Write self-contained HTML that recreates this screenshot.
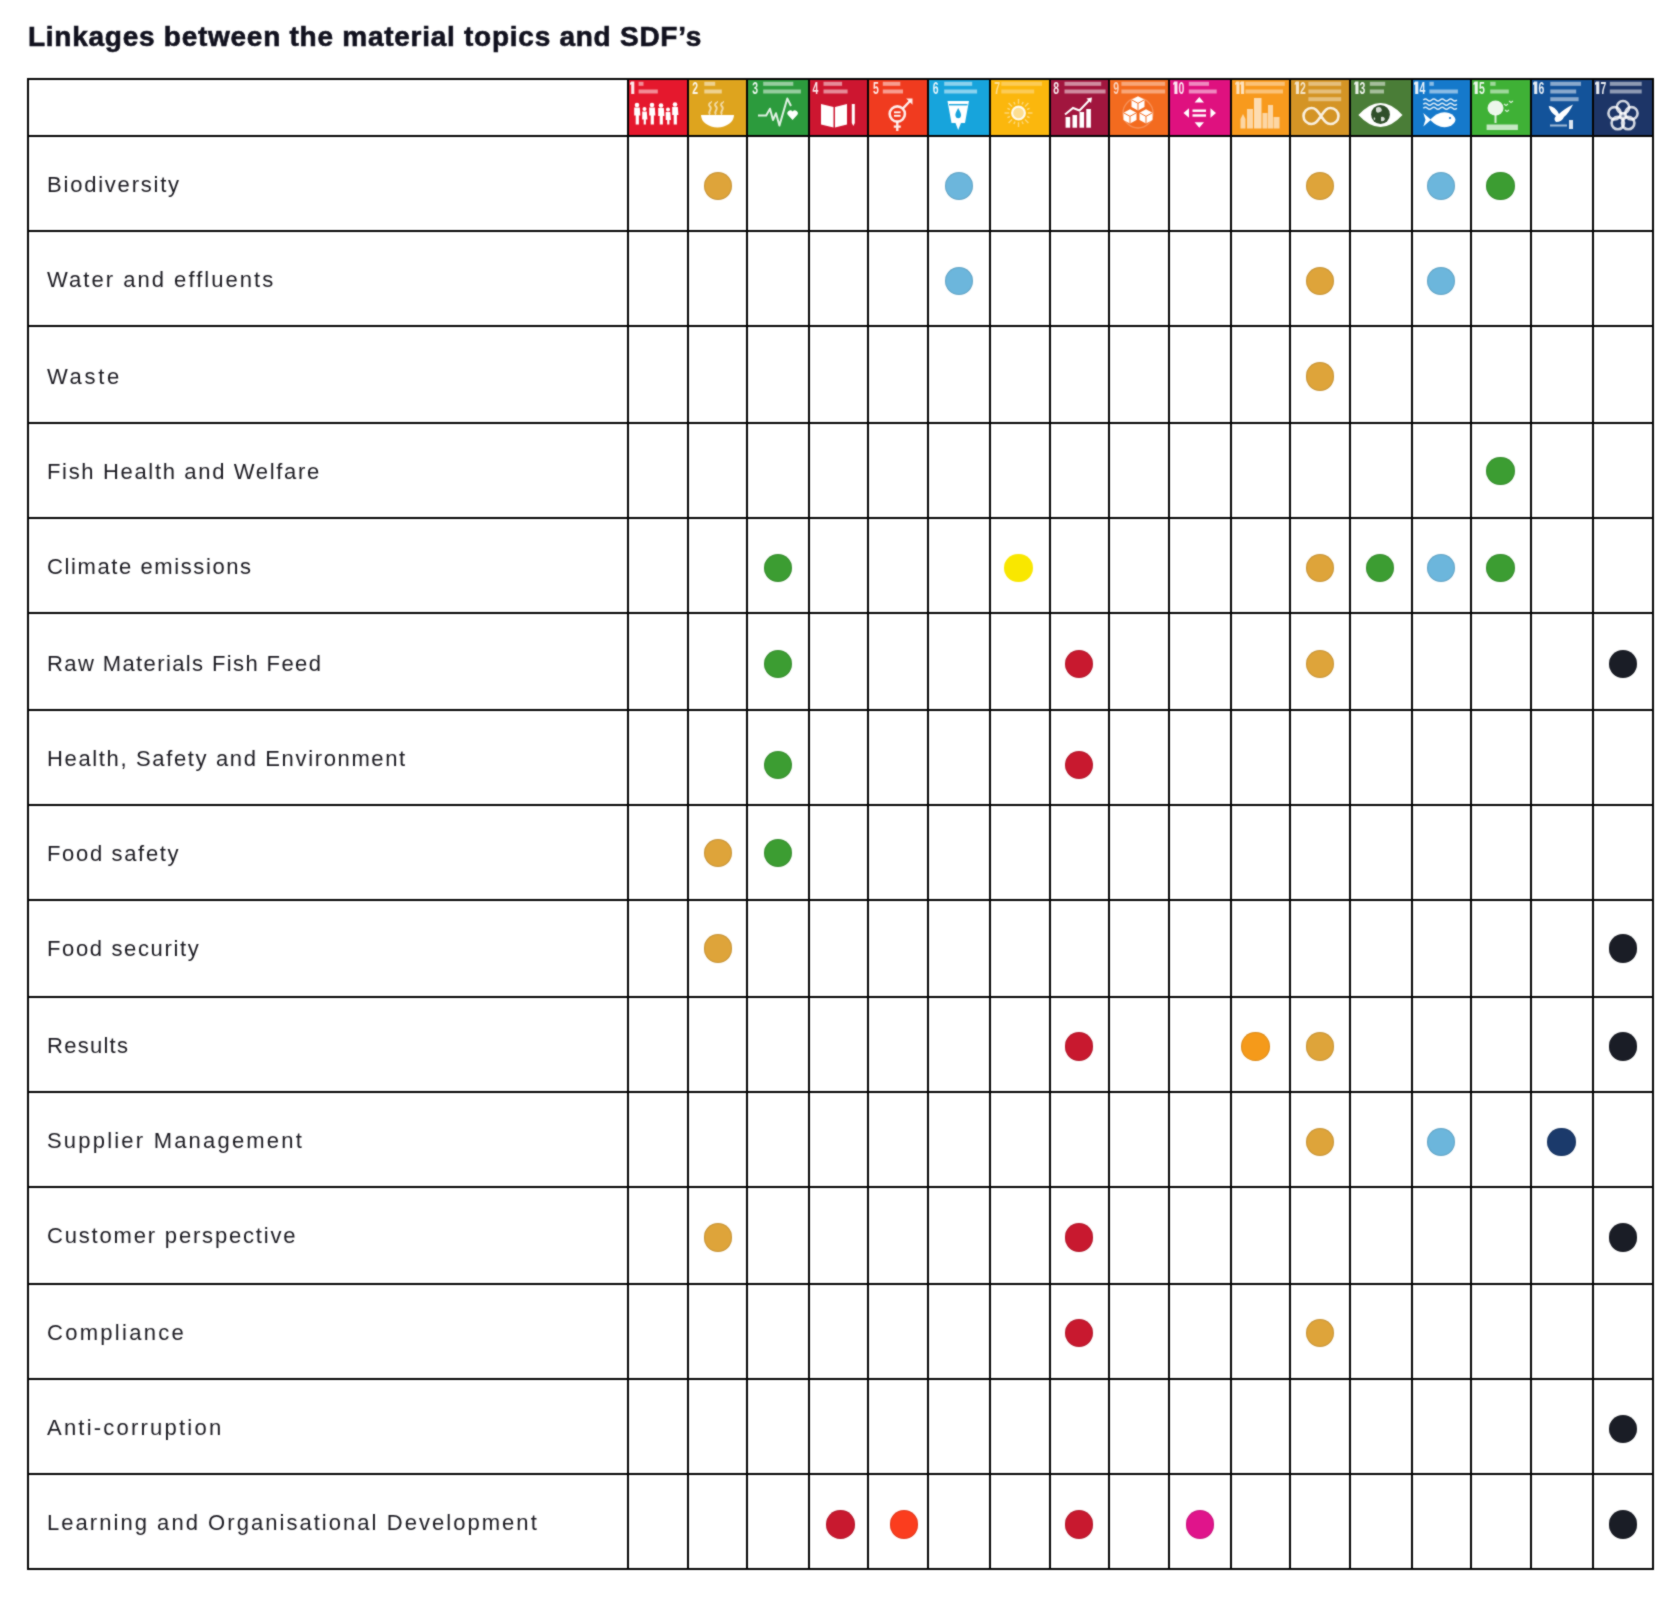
<!DOCTYPE html>
<html><head><meta charset="utf-8"><title>Linkages between the material topics and SDF's</title>
<style>
html,body{margin:0;padding:0;background:#fff;}
body{width:1680px;height:1598px;position:relative;overflow:hidden;font-family:"Liberation Sans",sans-serif;}
.t{will-change:transform;position:absolute;left:27.6px;top:0;font-weight:bold;font-size:28px;color:#12121f;-webkit-text-stroke:0.6px #12121f;white-space:nowrap;line-height:1;}
.l{position:absolute;background:#050505;}
.lab{will-change:transform;position:absolute;left:0;font-size:22px;color:#1c1b22;white-space:nowrap;line-height:1;}
.d{position:absolute;border-radius:50%;box-shadow:inset 0 0 0 1px rgba(0,0,0,0.10);width:28.4px;height:28.4px;}
.ic{position:absolute;display:block;}
#w{position:absolute;left:0;top:0;width:1680px;height:1598px;background:#fff;filter:url(#sb);}
</style></head><body><svg width="0" height="0" style="position:absolute"><filter id="sb" x="0" y="0" width="1680" height="1598" filterUnits="userSpaceOnUse" color-interpolation-filters="sRGB"><feConvolveMatrix order="3" kernelMatrix="1 2 1 2 12 2 1 2 1" edgeMode="duplicate"/></filter></svg><div id="w">
<div class="t" style="top:23.30px;letter-spacing:0.738px">Linkages between the material topics and SDF&#8217;s</div>
<svg class="ic" style="left:628.00px;top:78.50px;width:59.50px;height:57.00px" viewBox="0 0 59.50 57.00" preserveAspectRatio="none"><rect x="0" y="0" width="59.50" height="57.00" fill="#e5182d"/><path d="M3.2 2.6 h3.1 v12.3 h-3.1 v-9.6 l-1.2 0.8 v-2.2 z" fill="#fff" opacity="0.90"/><rect x="10.6" y="2.8" width="4.9" height="4" fill="#fff" opacity="0.50"/><rect x="10.6" y="10.5" width="19.2" height="4" fill="#fff" opacity="0.50"/><circle cx="9.0" cy="26.0" r="2.3" fill="#fff"/><path d="M6.2 28.6 h5.6 l0.6 8.0 h-1.5 v8.9 h-3.2 v-8.9 h-1.5 z" fill="#fff"/><circle cx="16.5" cy="30.0" r="2.0" fill="#fff"/><path d="M14.2 32.6 h4.6 l0.6 8.0 h-1.5 v4.9 h-2.2 v-4.9 h-1.5 z" fill="#fff"/><circle cx="24.0" cy="26.0" r="2.3" fill="#fff"/><path d="M21.2 28.6 h5.6 l0.6 8.0 h-1.5 v8.9 h-3.2 v-8.9 h-1.5 z" fill="#fff"/><circle cx="33.0" cy="26.5" r="2.3" fill="#fff"/><path d="M30.2 29.1 h5.6 l0.6 8.0 h-1.5 v8.4 h-3.2 v-8.4 h-1.5 z" fill="#fff"/><circle cx="40.0" cy="30.5" r="2.0" fill="#fff"/><path d="M37.7 33.1 h4.6 l0.6 8.0 h-1.5 v4.4 h-2.2 v-4.4 h-1.5 z" fill="#fff"/><circle cx="47.0" cy="25.5" r="2.3" fill="#fff"/><path d="M44.2 28.1 h5.6 l0.6 8.0 h-1.5 v9.4 h-3.2 v-9.4 h-1.5 z" fill="#fff"/></svg>
<svg class="ic" style="left:687.50px;top:78.50px;width:59.80px;height:57.00px" viewBox="0 0 59.80 57.00" preserveAspectRatio="none"><rect x="0" y="0" width="59.80" height="57.00" fill="#dea41e"/><text x="0" y="0" font-family="Liberation Sans" font-weight="bold" font-size="17.4" fill="#fff" opacity="0.90" transform="translate(4.2,14.9) scale(0.6,1)">2</text><rect x="16.3" y="2.8" width="10.9" height="4" fill="#fff" opacity="0.50"/><rect x="16.3" y="10.5" width="17.5" height="4" fill="#fff" opacity="0.50"/><path d="M13 36 H46 A16.5 12.5 0 0 1 13 36 Z" fill="#fff"/><path d="M22 35.5 c-3 -3 3 -5 0 -8 c-3 -3 2 -4 1 -5" fill="none" stroke="#fff" stroke-width="1.9" opacity="0.6"/><path d="M28 35.5 c-3 -3 3 -5 0 -8 c-3 -3 2 -4 1 -5" fill="none" stroke="#fff" stroke-width="1.9" opacity="0.6"/><path d="M34 35.5 c-3 -3 3 -5 0 -8 c-3 -3 2 -4 1 -5" fill="none" stroke="#fff" stroke-width="1.9" opacity="0.6"/></svg>
<svg class="ic" style="left:747.30px;top:78.50px;width:61.70px;height:57.00px" viewBox="0 0 61.70 57.00" preserveAspectRatio="none"><rect x="0" y="0" width="61.70" height="57.00" fill="#2c9b3d"/><text x="0" y="0" font-family="Liberation Sans" font-weight="bold" font-size="17.4" fill="#fff" opacity="0.90" transform="translate(5.2,14.9) scale(0.6,1)">3</text><rect x="16.2" y="2.8" width="30.1" height="4" fill="#fff" opacity="0.50"/><rect x="16.2" y="10.5" width="37.7" height="4" fill="#fff" opacity="0.50"/><polyline points="11,36.5 19.2,36.5 23,29.7 26,41 29,34.2 32.4,46.6 40.3,19.5 44,27" fill="none" stroke="#fff" stroke-width="2" stroke-linejoin="round" opacity="0.85"/><path d="M45.6 41 L41 36 A2.6 2.6 0 0 1 45.6 32.5 A2.6 2.6 0 0 1 50.2 36 Z" fill="#fff"/></svg>
<svg class="ic" style="left:809.00px;top:78.50px;width:59.40px;height:57.00px" viewBox="0 0 59.40 57.00" preserveAspectRatio="none"><rect x="0" y="0" width="59.40" height="57.00" fill="#cd1630"/><text x="0" y="0" font-family="Liberation Sans" font-weight="bold" font-size="17.4" fill="#fff" opacity="0.90" transform="translate(3.6,14.9) scale(0.6,1)">4</text><rect x="14.5" y="2.8" width="18.6" height="4" fill="#fff" opacity="0.50"/><rect x="14.5" y="10.5" width="24.1" height="4" fill="#fff" opacity="0.50"/><path d="M12 25 L24.5 28 L24.5 48.5 L12 45.5 Z" fill="#fff"/><path d="M38 25 L26 28 L26 48.5 L38 45.5 Z" fill="#fff"/><rect x="42.8" y="25" width="3" height="19" fill="#fff"/><path d="M42.8 44 L44.3 47 L45.8 44 Z" fill="#fff"/></svg>
<svg class="ic" style="left:868.40px;top:78.50px;width:59.90px;height:57.00px" viewBox="0 0 59.90 57.00" preserveAspectRatio="none"><rect x="0" y="0" width="59.90" height="57.00" fill="#f03b1f"/><text x="0" y="0" font-family="Liberation Sans" font-weight="bold" font-size="17.4" fill="#fff" opacity="0.90" transform="translate(5.0,14.9) scale(0.6,1)">5</text><rect x="14.8" y="2.8" width="17.5" height="4" fill="#fff" opacity="0.50"/><rect x="14.8" y="10.5" width="20.2" height="4" fill="#fff" opacity="0.50"/><circle cx="29.3" cy="35" r="7.6" fill="none" stroke="#fff" stroke-width="2.6" opacity="0.9"/><rect x="26" y="32.4" width="6.6" height="1.8" fill="#fff"/><rect x="26" y="35.9" width="6.6" height="1.8" fill="#fff"/><path d="M35 29.3 L42 22" stroke="#fff" stroke-width="2.4" opacity="0.9"/><path d="M38.2 19.5 H44.5 V25.8 Z" fill="#fff" opacity="0.9"/><path d="M29.3 42.6 V52 M25.8 47.6 H32.8" stroke="#fff" stroke-width="2.4" opacity="0.9"/></svg>
<svg class="ic" style="left:928.30px;top:78.50px;width:61.70px;height:57.00px" viewBox="0 0 61.70 57.00" preserveAspectRatio="none"><rect x="0" y="0" width="61.70" height="57.00" fill="#17a4dc"/><text x="0" y="0" font-family="Liberation Sans" font-weight="bold" font-size="17.4" fill="#fff" opacity="0.90" transform="translate(4.7,14.9) scale(0.6,1)">6</text><rect x="16.2" y="2.8" width="28.0" height="4" fill="#fff" opacity="0.50"/><rect x="16.2" y="10.5" width="32.9" height="4" fill="#fff" opacity="0.50"/><path d="M19.5 22 H41 L37 44 L33 44 L30.2 51 L27.5 44 L23.5 44 Z" fill="#fff"/><path d="M30.2 29 C28 33 27 35 27.5 37 A2.8 2.8 0 0 0 33 37 C33.4 35 32.4 33 30.2 29 Z" fill="#17a4dc"/><rect x="21" y="25" width="18.5" height="1.4" fill="#17a4dc"/></svg>
<svg class="ic" style="left:990.00px;top:78.50px;width:59.80px;height:57.00px" viewBox="0 0 59.80 57.00" preserveAspectRatio="none"><rect x="0" y="0" width="59.80" height="57.00" fill="#fbb70d"/><text x="0" y="0" font-family="Liberation Sans" font-weight="bold" font-size="17.4" fill="#fff" opacity="0.55" transform="translate(4.2,14.9) scale(0.6,1)">7</text><rect x="11.3" y="2.8" width="40.6" height="4" fill="#fff" opacity="0.30"/><rect x="11.3" y="10.5" width="32.9" height="4" fill="#fff" opacity="0.30"/><circle cx="28.5" cy="34" r="6.8" fill="#fff" opacity="0.55"/><circle cx="28.5" cy="34" r="6.4" fill="none" stroke="#fff" stroke-width="2.2" opacity="0.85"/><line x1="37.7" y1="34.0" x2="42.5" y2="34.0" stroke="#fff" stroke-width="1.4" opacity="0.45"/><line x1="37.0" y1="37.5" x2="39.6" y2="38.6" stroke="#fff" stroke-width="1.4" opacity="0.45"/><line x1="35.0" y1="40.5" x2="38.4" y2="43.9" stroke="#fff" stroke-width="1.4" opacity="0.45"/><line x1="32.0" y1="42.5" x2="33.1" y2="45.1" stroke="#fff" stroke-width="1.4" opacity="0.45"/><line x1="28.5" y1="43.2" x2="28.5" y2="48.0" stroke="#fff" stroke-width="1.4" opacity="0.45"/><line x1="25.0" y1="42.5" x2="23.9" y2="45.1" stroke="#fff" stroke-width="1.4" opacity="0.45"/><line x1="22.0" y1="40.5" x2="18.6" y2="43.9" stroke="#fff" stroke-width="1.4" opacity="0.45"/><line x1="20.0" y1="37.5" x2="17.4" y2="38.6" stroke="#fff" stroke-width="1.4" opacity="0.45"/><line x1="19.3" y1="34.0" x2="14.5" y2="34.0" stroke="#fff" stroke-width="1.4" opacity="0.45"/><line x1="20.0" y1="30.5" x2="17.4" y2="29.4" stroke="#fff" stroke-width="1.4" opacity="0.45"/><line x1="22.0" y1="27.5" x2="18.6" y2="24.1" stroke="#fff" stroke-width="1.4" opacity="0.45"/><line x1="25.0" y1="25.5" x2="23.9" y2="22.9" stroke="#fff" stroke-width="1.4" opacity="0.45"/><line x1="28.5" y1="24.8" x2="28.5" y2="20.0" stroke="#fff" stroke-width="1.4" opacity="0.45"/><line x1="32.0" y1="25.5" x2="33.1" y2="22.9" stroke="#fff" stroke-width="1.4" opacity="0.45"/><line x1="35.0" y1="27.5" x2="38.4" y2="24.1" stroke="#fff" stroke-width="1.4" opacity="0.45"/><line x1="37.0" y1="30.5" x2="39.6" y2="29.4" stroke="#fff" stroke-width="1.4" opacity="0.45"/></svg>
<svg class="ic" style="left:1049.80px;top:78.50px;width:59.60px;height:57.00px" viewBox="0 0 59.60 57.00" preserveAspectRatio="none"><rect x="0" y="0" width="59.60" height="57.00" fill="#a1163e"/><text x="0" y="0" font-family="Liberation Sans" font-weight="bold" font-size="17.4" fill="#fff" opacity="0.90" transform="translate(3.2,14.9) scale(0.6,1)">8</text><rect x="14.5" y="2.8" width="36.7" height="4" fill="#fff" opacity="0.50"/><rect x="14.5" y="10.5" width="41.1" height="4" fill="#fff" opacity="0.50"/><rect x="15.6" y="38.0" width="4.6" height="10.7" fill="#fff"/><rect x="22.5" y="36.0" width="4.6" height="12.7" fill="#fff"/><rect x="29.5" y="33.0" width="4.6" height="15.7" fill="#fff"/><rect x="36.3" y="30.0" width="4.6" height="18.7" fill="#fff"/><polyline points="15,35.5 23,29 29.5,31.5 40,20.5" fill="none" stroke="#fff" stroke-width="2"/><path d="M36.5 19.5 L42 18.5 L41 24 Z" fill="#fff"/></svg>
<svg class="ic" style="left:1109.40px;top:78.50px;width:59.30px;height:57.00px" viewBox="0 0 59.30 57.00" preserveAspectRatio="none"><rect x="0" y="0" width="59.30" height="57.00" fill="#f36b1f"/><text x="0" y="0" font-family="Liberation Sans" font-weight="bold" font-size="17.4" fill="#fff" opacity="0.70" transform="translate(4.2,14.9) scale(0.6,1)">9</text><rect x="12.4" y="2.8" width="43.8" height="4" fill="#fff" opacity="0.40"/><rect x="12.4" y="10.5" width="43.8" height="4" fill="#fff" opacity="0.40"/><path d="M22.5 20.75 l6.5 -3.575 l6.5 3.575 v7.15 l-6.5 3.575 l-6.5 -3.575 Z" fill="#fff"/><path d="M22.5 20.75 l6.5 3.575 l6.5 -3.575 M29 24.325 v7.15" fill="none" stroke="#f36b1f" stroke-width="1"/><path d="M14.5 33.75 l6.5 -3.575 l6.5 3.575 v7.15 l-6.5 3.575 l-6.5 -3.575 Z" fill="#fff"/><path d="M14.5 33.75 l6.5 3.575 l6.5 -3.575 M21 37.325 v7.15" fill="none" stroke="#f36b1f" stroke-width="1"/><path d="M30.5 33.75 l6.5 -3.575 l6.5 3.575 v7.15 l-6.5 3.575 l-6.5 -3.575 Z" fill="#fff"/><path d="M30.5 33.75 l6.5 3.575 l6.5 -3.575 M37 37.325 v7.15" fill="none" stroke="#f36b1f" stroke-width="1"/><circle cx="29" cy="34" r="15" fill="none" stroke="#fff" stroke-width="1.4" opacity="0.25"/></svg>
<svg class="ic" style="left:1168.70px;top:78.50px;width:61.80px;height:57.00px" viewBox="0 0 61.80 57.00" preserveAspectRatio="none"><rect x="0" y="0" width="61.80" height="57.00" fill="#df117f"/><path d="M5.4 2.6 h3.1 v12.3 h-3.1 v-9.6 l-1.2 0.8 v-2.2 z" fill="#fff" opacity="0.90"/><text x="0" y="0" font-family="Liberation Sans" font-weight="bold" font-size="17.4" fill="#fff" opacity="0.90" transform="translate(9.6,14.9) scale(0.6,1)">0</text><rect x="19.8" y="2.8" width="20.2" height="4" fill="#fff" opacity="0.50"/><rect x="19.8" y="10.5" width="27.9" height="4" fill="#fff" opacity="0.50"/><path d="M30.3 18 L35 23.5 H25.6 Z M30.3 48.7 L35 43.2 H25.6 Z M14.5 34 L20 29.3 V38.7 Z M47 34 L41.5 29.3 V38.7 Z" fill="#fff"/><rect x="23.5" y="30.5" width="13.5" height="2.4" fill="#fff"/><rect x="23.5" y="35.3" width="13.5" height="2.4" fill="#fff"/></svg>
<svg class="ic" style="left:1230.50px;top:78.50px;width:59.50px;height:57.00px" viewBox="0 0 59.50 57.00" preserveAspectRatio="none"><rect x="0" y="0" width="59.50" height="57.00" fill="#f89a1d"/><path d="M5.4 2.6 h3.1 v12.3 h-3.1 v-9.6 l-1.2 0.8 v-2.2 z" fill="#fff" opacity="0.70"/><path d="M10.0 2.6 h3.1 v12.3 h-3.1 v-9.6 l-1.2 0.8 v-2.2 z" fill="#fff" opacity="0.70"/><rect x="14.4" y="2.8" width="39.4" height="4" fill="#fff" opacity="0.40"/><rect x="14.4" y="10.5" width="37.6" height="4" fill="#fff" opacity="0.40"/><path d="M9.5 49.5 V40 L12 35 L14.5 40 V49.5 Z" fill="#fff" opacity="0.6"/><rect x="16" y="30" width="6" height="19.5" fill="#fff" opacity="0.6"/><rect x="23" y="19" width="7.5" height="30.5" fill="#fff" opacity="0.65"/><rect x="31.5" y="34" width="5" height="15.5" fill="#fff" opacity="0.6"/><rect x="37" y="26" width="5" height="23.5" fill="#fff" opacity="0.6"/><rect x="42.5" y="38" width="6" height="11.5" fill="#fff" opacity="0.6"/></svg>
<svg class="ic" style="left:1290.00px;top:78.50px;width:59.70px;height:57.00px" viewBox="0 0 59.70 57.00" preserveAspectRatio="none"><rect x="0" y="0" width="59.70" height="57.00" fill="#d49425"/><path d="M5.9 2.6 h3.1 v12.3 h-3.1 v-9.6 l-1.2 0.8 v-2.2 z" fill="#fff" opacity="0.75"/><text x="0" y="0" font-family="Liberation Sans" font-weight="bold" font-size="17.4" fill="#fff" opacity="0.75" transform="translate(10.1,14.9) scale(0.6,1)">2</text><rect x="18.4" y="2.8" width="32.8" height="4" fill="#fff" opacity="0.40"/><rect x="18.4" y="10.5" width="32.8" height="4" fill="#fff" opacity="0.40"/><rect x="18.4" y="18.2" width="32.8" height="4" fill="#fff" opacity="0.40"/><path d="M31 37 C27 31 25 29 21.5 29 A8 8 0 0 0 21.5 45 C25 45 27 43 31 37 C35 31 37 29 40.5 29 A8 8 0 0 1 40.5 45 C37 45 35 43 31 37 Z" fill="none" stroke="#fff" stroke-width="2.6" opacity="0.85"/></svg>
<svg class="ic" style="left:1349.70px;top:78.50px;width:62.10px;height:57.00px" viewBox="0 0 62.10 57.00" preserveAspectRatio="none"><rect x="0" y="0" width="62.10" height="57.00" fill="#4a7d37"/><path d="M5.4 2.6 h3.1 v12.3 h-3.1 v-9.6 l-1.2 0.8 v-2.2 z" fill="#fff" opacity="0.90"/><text x="0" y="0" font-family="Liberation Sans" font-weight="bold" font-size="17.4" fill="#fff" opacity="0.90" transform="translate(9.6,14.9) scale(0.6,1)">3</text><rect x="19.8" y="2.8" width="15.4" height="4" fill="#fff" opacity="0.50"/><rect x="19.8" y="10.5" width="14.2" height="4" fill="#fff" opacity="0.50"/><path d="M8.4 36 Q30.5 12 52.5 36 Q30.5 60 8.4 36 Z" fill="#fff"/><circle cx="30.5" cy="35.5" r="9.4" fill="#2f4f2a"/><path d="M26 29 q3 -2 5 0 q2 3 -1 4 q-3 2 -4 -1 Z M31 38 q3 -1 4 2 q-1 3 -4 2 Z M24 38 q2 1 1 3 q-2 0 -1 -3 Z" fill="#fff" opacity="0.8"/></svg>
<svg class="ic" style="left:1411.80px;top:78.50px;width:59.60px;height:57.00px" viewBox="0 0 59.60 57.00" preserveAspectRatio="none"><rect x="0" y="0" width="59.60" height="57.00" fill="#1579cb"/><path d="M3.2 2.6 h3.1 v12.3 h-3.1 v-9.6 l-1.2 0.8 v-2.2 z" fill="#fff" opacity="0.90"/><text x="0" y="0" font-family="Liberation Sans" font-weight="bold" font-size="17.4" fill="#fff" opacity="0.90" transform="translate(7.4,14.9) scale(0.6,1)">4</text><rect x="17.4" y="2.8" width="4.4" height="4" fill="#fff" opacity="0.50"/><rect x="17.4" y="10.5" width="28.5" height="4" fill="#fff" opacity="0.50"/><path d="M11.3 21.0 q2.1 -2 4.2 0 t4.2 0 t4.2 0 t4.2 0 t4.2 0 t4.2 0 t4.2 0 t4.2 0" fill="none" stroke="#fff" stroke-width="1.5" opacity="0.85"/><path d="M11.3 25.3 q2.1 -2 4.2 0 t4.2 0 t4.2 0 t4.2 0 t4.2 0 t4.2 0 t4.2 0 t4.2 0" fill="none" stroke="#fff" stroke-width="1.5" opacity="0.85"/><path d="M11.3 29.2 q2.1 -2 4.2 0 t4.2 0 t4.2 0 t4.2 0 t4.2 0 t4.2 0 t4.2 0 t4.2 0" fill="none" stroke="#fff" stroke-width="1.5" opacity="0.85"/><path d="M18 40.8 Q27 31 37 34 Q43 36.5 43.5 40.8 Q43 45 37 47.6 Q27 50.5 18 40.8 Z" fill="#fff"/><path d="M19 40.8 L11.3 34 L13.5 40.8 L11.3 47.6 Z" fill="#fff"/><circle cx="38" cy="39" r="1.1" fill="#1579cb"/></svg>
<svg class="ic" style="left:1471.40px;top:78.50px;width:59.60px;height:57.00px" viewBox="0 0 59.60 57.00" preserveAspectRatio="none"><rect x="0" y="0" width="59.60" height="57.00" fill="#3fb136"/><path d="M3.7 2.6 h3.1 v12.3 h-3.1 v-9.6 l-1.2 0.8 v-2.2 z" fill="#fff" opacity="0.90"/><text x="0" y="0" font-family="Liberation Sans" font-weight="bold" font-size="17.4" fill="#fff" opacity="0.90" transform="translate(7.9,14.9) scale(0.6,1)">5</text><rect x="19.2" y="2.8" width="5.4" height="4" fill="#fff" opacity="0.50"/><rect x="19.2" y="10.5" width="18.6" height="4" fill="#fff" opacity="0.50"/><ellipse cx="24.5" cy="29" rx="8" ry="7.5" fill="#fff" opacity="0.9"/><rect x="23.5" y="35" width="2" height="9" fill="#fff" opacity="0.8"/><rect x="15.6" y="45.5" width="31.3" height="5.5" fill="#fff" opacity="0.7"/><path d="M33 25 l2 1.5 l2 -1.5 M38 22 l2 1.5 l2 -1.5 M34 31 l2 1.5 l2 -1.5" fill="none" stroke="#fff" stroke-width="1.2" opacity="0.8"/></svg>
<svg class="ic" style="left:1531.00px;top:78.50px;width:61.90px;height:57.00px" viewBox="0 0 61.90 57.00" preserveAspectRatio="none"><rect x="0" y="0" width="61.90" height="57.00" fill="#13539a"/><path d="M3.2 2.6 h3.1 v12.3 h-3.1 v-9.6 l-1.2 0.8 v-2.2 z" fill="#fff" opacity="0.90"/><text x="0" y="0" font-family="Liberation Sans" font-weight="bold" font-size="17.4" fill="#fff" opacity="0.90" transform="translate(7.4,14.9) scale(0.6,1)">6</text><rect x="19.3" y="2.8" width="30.7" height="4" fill="#fff" opacity="0.50"/><rect x="19.3" y="10.5" width="25.9" height="4" fill="#fff" opacity="0.50"/><rect x="19.3" y="18.2" width="28.3" height="4" fill="#fff" opacity="0.50"/><path d="M17.7 27 Q24 27 28 35 Q33 30 42 25.5 Q38 34 33 38 Q31 43 25 43 Q22 40 25 37 Q19 33 17.7 27 Z" fill="#fff"/><rect x="19" y="45.5" width="17" height="2" fill="#fff" opacity="0.6"/><path d="M38 41 L42 41 L42 50 L38 50 Z" fill="#fff" opacity="0.85"/></svg>
<svg class="ic" style="left:1592.90px;top:78.50px;width:59.60px;height:57.00px" viewBox="0 0 59.60 57.00" preserveAspectRatio="none"><rect x="0" y="0" width="59.60" height="57.00" fill="#1d3567"/><path d="M3.2 2.6 h3.1 v12.3 h-3.1 v-9.6 l-1.2 0.8 v-2.2 z" fill="#fff" opacity="0.90"/><text x="0" y="0" font-family="Liberation Sans" font-weight="bold" font-size="17.4" fill="#fff" opacity="0.90" transform="translate(7.4,14.9) scale(0.6,1)">7</text><rect x="16.8" y="2.8" width="31.9" height="4" fill="#fff" opacity="0.50"/><rect x="16.8" y="10.5" width="31.9" height="4" fill="#fff" opacity="0.50"/><circle cx="30.0" cy="28.2" r="6.2" fill="none" stroke="#fff" stroke-width="2.6" opacity="0.8"/><circle cx="38.4" cy="34.3" r="6.2" fill="none" stroke="#fff" stroke-width="2.6" opacity="0.8"/><circle cx="35.2" cy="44.1" r="6.2" fill="none" stroke="#fff" stroke-width="2.6" opacity="0.8"/><circle cx="24.8" cy="44.1" r="6.2" fill="none" stroke="#fff" stroke-width="2.6" opacity="0.8"/><circle cx="21.6" cy="34.3" r="6.2" fill="none" stroke="#fff" stroke-width="2.6" opacity="0.8"/><circle cx="30" cy="37" r="4" fill="#fff" opacity="0.45"/></svg>
<div class="l" style="left:26.75px;top:77.50px;width:2.00px;height:1492.50px"></div>
<div class="l" style="left:627.00px;top:77.50px;width:2.00px;height:1492.50px"></div>
<div class="l" style="left:686.50px;top:77.50px;width:2.00px;height:1492.50px"></div>
<div class="l" style="left:746.30px;top:77.50px;width:2.00px;height:1492.50px"></div>
<div class="l" style="left:808.00px;top:77.50px;width:2.00px;height:1492.50px"></div>
<div class="l" style="left:867.40px;top:77.50px;width:2.00px;height:1492.50px"></div>
<div class="l" style="left:927.30px;top:77.50px;width:2.00px;height:1492.50px"></div>
<div class="l" style="left:989.00px;top:77.50px;width:2.00px;height:1492.50px"></div>
<div class="l" style="left:1048.80px;top:77.50px;width:2.00px;height:1492.50px"></div>
<div class="l" style="left:1108.40px;top:77.50px;width:2.00px;height:1492.50px"></div>
<div class="l" style="left:1167.70px;top:77.50px;width:2.00px;height:1492.50px"></div>
<div class="l" style="left:1229.50px;top:77.50px;width:2.00px;height:1492.50px"></div>
<div class="l" style="left:1289.00px;top:77.50px;width:2.00px;height:1492.50px"></div>
<div class="l" style="left:1348.70px;top:77.50px;width:2.00px;height:1492.50px"></div>
<div class="l" style="left:1410.80px;top:77.50px;width:2.00px;height:1492.50px"></div>
<div class="l" style="left:1470.40px;top:77.50px;width:2.00px;height:1492.50px"></div>
<div class="l" style="left:1530.00px;top:77.50px;width:2.00px;height:1492.50px"></div>
<div class="l" style="left:1591.90px;top:77.50px;width:2.00px;height:1492.50px"></div>
<div class="l" style="left:1651.50px;top:77.50px;width:2.00px;height:1492.50px"></div>
<div class="l" style="left:26.75px;top:77.50px;width:1626.75px;height:2.00px"></div>
<div class="l" style="left:26.75px;top:134.50px;width:1626.75px;height:2.00px"></div>
<div class="l" style="left:26.75px;top:229.50px;width:1626.75px;height:2.00px"></div>
<div class="l" style="left:26.75px;top:324.50px;width:1626.75px;height:2.00px"></div>
<div class="l" style="left:26.75px;top:422.00px;width:1626.75px;height:2.00px"></div>
<div class="l" style="left:26.75px;top:516.60px;width:1626.75px;height:2.00px"></div>
<div class="l" style="left:26.75px;top:611.75px;width:1626.75px;height:2.00px"></div>
<div class="l" style="left:26.75px;top:708.60px;width:1626.75px;height:2.00px"></div>
<div class="l" style="left:26.75px;top:803.60px;width:1626.75px;height:2.00px"></div>
<div class="l" style="left:26.75px;top:898.50px;width:1626.75px;height:2.00px"></div>
<div class="l" style="left:26.75px;top:995.90px;width:1626.75px;height:2.00px"></div>
<div class="l" style="left:26.75px;top:1090.75px;width:1626.75px;height:2.00px"></div>
<div class="l" style="left:26.75px;top:1185.90px;width:1626.75px;height:2.00px"></div>
<div class="l" style="left:26.75px;top:1282.75px;width:1626.75px;height:2.00px"></div>
<div class="l" style="left:26.75px;top:1378.00px;width:1626.75px;height:2.00px"></div>
<div class="l" style="left:26.75px;top:1473.00px;width:1626.75px;height:2.00px"></div>
<div class="l" style="left:26.75px;top:1568.00px;width:1626.75px;height:2.00px"></div>
<div class="lab" style="left:46.70px;top:174.08px;letter-spacing:1.782px">Biodiversity</div>
<div class="lab" style="left:46.70px;top:268.78px;letter-spacing:2.033px">Water and effluents</div>
<div class="lab" style="left:46.70px;top:365.98px;letter-spacing:2.650px">Waste</div>
<div class="lab" style="left:46.70px;top:461.28px;letter-spacing:1.664px">Fish Health and Welfare</div>
<div class="lab" style="left:46.70px;top:556.48px;letter-spacing:1.600px">Climate emissions</div>
<div class="lab" style="left:46.70px;top:652.98px;letter-spacing:1.391px">Raw Materials Fish Feed</div>
<div class="lab" style="left:46.70px;top:748.18px;letter-spacing:1.641px">Health, Safety and Environment</div>
<div class="lab" style="left:46.70px;top:842.98px;letter-spacing:1.660px">Food safety</div>
<div class="lab" style="left:46.70px;top:938.18px;letter-spacing:1.633px">Food security</div>
<div class="lab" style="left:46.70px;top:1035.28px;letter-spacing:1.267px">Results</div>
<div class="lab" style="left:46.70px;top:1129.88px;letter-spacing:2.200px">Supplier Management</div>
<div class="lab" style="left:46.70px;top:1225.18px;letter-spacing:1.821px">Customer perspective</div>
<div class="lab" style="left:46.70px;top:1322.38px;letter-spacing:2.289px">Compliance</div>
<div class="lab" style="left:46.70px;top:1416.98px;letter-spacing:2.221px">Anti-corruption</div>
<div class="lab" style="left:46.70px;top:1512.28px;letter-spacing:2.042px">Learning and Organisational Development</div>
<div class="d" style="left:703.80px;top:171.60px;background:#dea43a"></div>
<div class="d" style="left:944.80px;top:171.60px;background:#6cb6dc"></div>
<div class="d" style="left:1306.10px;top:171.60px;background:#dea43a"></div>
<div class="d" style="left:1426.80px;top:171.60px;background:#6cb6dc"></div>
<div class="d" style="left:1486.30px;top:171.60px;background:#3c9d32"></div>
<div class="d" style="left:944.80px;top:267.10px;background:#6cb6dc"></div>
<div class="d" style="left:1306.10px;top:267.10px;background:#dea43a"></div>
<div class="d" style="left:1426.80px;top:267.10px;background:#6cb6dc"></div>
<div class="d" style="left:1306.10px;top:362.30px;background:#dea43a"></div>
<div class="d" style="left:1486.30px;top:456.80px;background:#3c9d32"></div>
<div class="d" style="left:763.80px;top:553.50px;background:#3c9d32"></div>
<div class="d" style="left:1004.30px;top:553.50px;background:#f9e700;box-shadow:none"></div>
<div class="d" style="left:1306.10px;top:553.50px;background:#dea43a"></div>
<div class="d" style="left:1366.10px;top:553.50px;background:#3c9d32"></div>
<div class="d" style="left:1426.80px;top:553.50px;background:#6cb6dc"></div>
<div class="d" style="left:1486.30px;top:553.50px;background:#3c9d32"></div>
<div class="d" style="left:763.80px;top:649.80px;background:#3c9d32"></div>
<div class="d" style="left:1064.80px;top:649.80px;background:#c8192f"></div>
<div class="d" style="left:1306.10px;top:649.80px;background:#dea43a"></div>
<div class="d" style="left:1608.80px;top:649.80px;background:#1a1d26"></div>
<div class="d" style="left:763.80px;top:750.60px;background:#3c9d32"></div>
<div class="d" style="left:1064.80px;top:750.60px;background:#c8192f"></div>
<div class="d" style="left:703.80px;top:838.80px;background:#dea43a"></div>
<div class="d" style="left:763.80px;top:838.80px;background:#3c9d32"></div>
<div class="d" style="left:703.80px;top:934.30px;background:#dea43a"></div>
<div class="d" style="left:1608.80px;top:934.30px;background:#1a1d26"></div>
<div class="d" style="left:1064.80px;top:1032.30px;background:#c8192f"></div>
<div class="d" style="left:1241.30px;top:1032.30px;background:#f59a1a"></div>
<div class="d" style="left:1306.10px;top:1032.30px;background:#dea43a"></div>
<div class="d" style="left:1608.80px;top:1032.30px;background:#1a1d26"></div>
<div class="d" style="left:1306.10px;top:1127.80px;background:#dea43a"></div>
<div class="d" style="left:1426.80px;top:1127.80px;background:#6cb6dc"></div>
<div class="d" style="left:1547.30px;top:1127.80px;background:#1b3a6b"></div>
<div class="d" style="left:703.80px;top:1223.30px;background:#dea43a"></div>
<div class="d" style="left:1064.80px;top:1223.30px;background:#c8192f"></div>
<div class="d" style="left:1608.80px;top:1223.30px;background:#1a1d26"></div>
<div class="d" style="left:1064.80px;top:1318.80px;background:#c8192f"></div>
<div class="d" style="left:1306.10px;top:1318.80px;background:#dea43a"></div>
<div class="d" style="left:1608.80px;top:1414.80px;background:#1a1d26"></div>
<div class="d" style="left:826.30px;top:1510.40px;background:#c8192f"></div>
<div class="d" style="left:889.80px;top:1510.40px;background:#fb3d1e"></div>
<div class="d" style="left:1064.80px;top:1510.40px;background:#c8192f"></div>
<div class="d" style="left:1186.00px;top:1510.40px;background:#e0148b"></div>
<div class="d" style="left:1608.80px;top:1510.40px;background:#1a1d26"></div>
</div></body></html>
